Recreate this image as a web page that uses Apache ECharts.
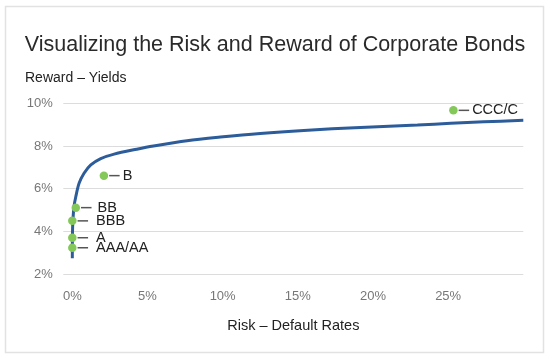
<!DOCTYPE html>
<html><head><meta charset="utf-8">
<script src="https://cdn.jsdelivr.net/npm/echarts@6/dist/echarts.min.js"></script>
<style>html,body{margin:0;padding:0;background:#fff}#c{width:550px;height:357px}</style>
</head><body><div id="c"></div>
<script>
const ratings = ['AAA/AA', 'A', 'BBB', 'BB', 'B', 'CCC/C'];
const defaultRates = [0.0, 0.0, 0.0, 0.23, 2.1, 25.35];
const yields = [3.23, 3.70, 4.49, 5.11, 6.61, 9.67];
const curveX = [0, 0.005, 0.03, 0.11, 0.23, 0.45, 0.78, 1.23, 1.89, 2.78, 4.29, 5.4, 7.63, 9.85, 12.5, 15.4, 19.17, 22.96, 25.18, 27.38, 30];
const curveY = [2.74, 3.59, 4.37, 5.15, 5.62, 6.25, 6.72, 7.11, 7.41, 7.62, 7.85, 8.0, 8.25, 8.42, 8.59, 8.73, 8.87, 8.98, 9.06, 9.13, 9.2];
const xTicks = [0, 5, 10, 15, 20, 25];
// label spacing (style): gap between dash and text for each rating label
const labelGap = [8, 8, 8, 6, 3, 3];

const chart = echarts.init(document.getElementById('c'), null, {renderer: 'canvas'});
const font = 'Liberation Sans, Arial, Helvetica, sans-serif';
chart.setOption({
  animation: false,
  textStyle: {fontFamily: font},
  title: {
    text: 'Visualizing the Risk and Reward of Corporate Bonds',
    left: 'center', top: 29,
    textStyle: {fontSize: 21.5, fontWeight: 'normal', color: '#2a2a2a', fontFamily: font}
  },
  graphic: [
    {type: 'rect', shape: {x: 5.5, y: 6.5, width: 538, height: 346}, style: {fill: 'none', stroke: '#e2e2e2', lineWidth: 1.5}, silent: true},
    {type: 'text', x: 25, y: 71, style: {text: 'Reward – Yields', fontSize: 14, fill: '#222', fontFamily: font}},
    {type: 'text', x: 293.3, y: 318.5, style: {text: 'Risk – Default Rates', fontSize: 14.5, fill: '#222', fontFamily: font, align: 'center'}}
  ],
  grid: {left: 63.3, right: 26.7, top: 103.3, bottom: 83, containLabel: false},
  xAxis: {
    type: 'value', min: -0.6, max: 30,
    axisLine: {show: false}, axisTick: {show: false}, splitLine: {show: false},
    axisLabel: {customValues: xTicks, formatter: '{value}%', color: '#777', fontSize: 13, margin: 16, fontFamily: font}
  },
  yAxis: {
    type: 'value', min: 2, max: 10, interval: 2,
    axisLine: {show: false}, axisTick: {show: false},
    splitLine: {lineStyle: {color: '#dcdcdc', width: 1}},
    axisLabel: {formatter: '{value}%', color: '#777', fontSize: 13, margin: 10.5, fontFamily: font}
  },
  series: [
    {
      type: 'line', data: curveX.map((x, i) => [x, curveY[i]]),
      showSymbol: false, smooth: 0.3,
      lineStyle: {color: '#2c5c9a', width: 3}, z: 2
    },
    {
      type: 'scatter',
      data: defaultRates.map((x, i) => ({
        value: [x, yields[i]], name: ratings[i],
        label: {rich: {t: {padding: [0, 0, 0, labelGap[i]]}}}
      })),
      symbolSize: 8.5, itemStyle: {color: '#84c85a', opacity: 1}, z: 3,
      label: {
        show: true, position: 'right', distance: 1,
        formatter: p => '{d|}{t|' + p.name + '}',
        rich: {
          d: {width: 10.5, height: 1.5, backgroundColor: '#555'},
          t: {fontSize: 14.5, color: '#222', fontFamily: font}
        }
      }
    }
  ]
});
</script></body></html>
